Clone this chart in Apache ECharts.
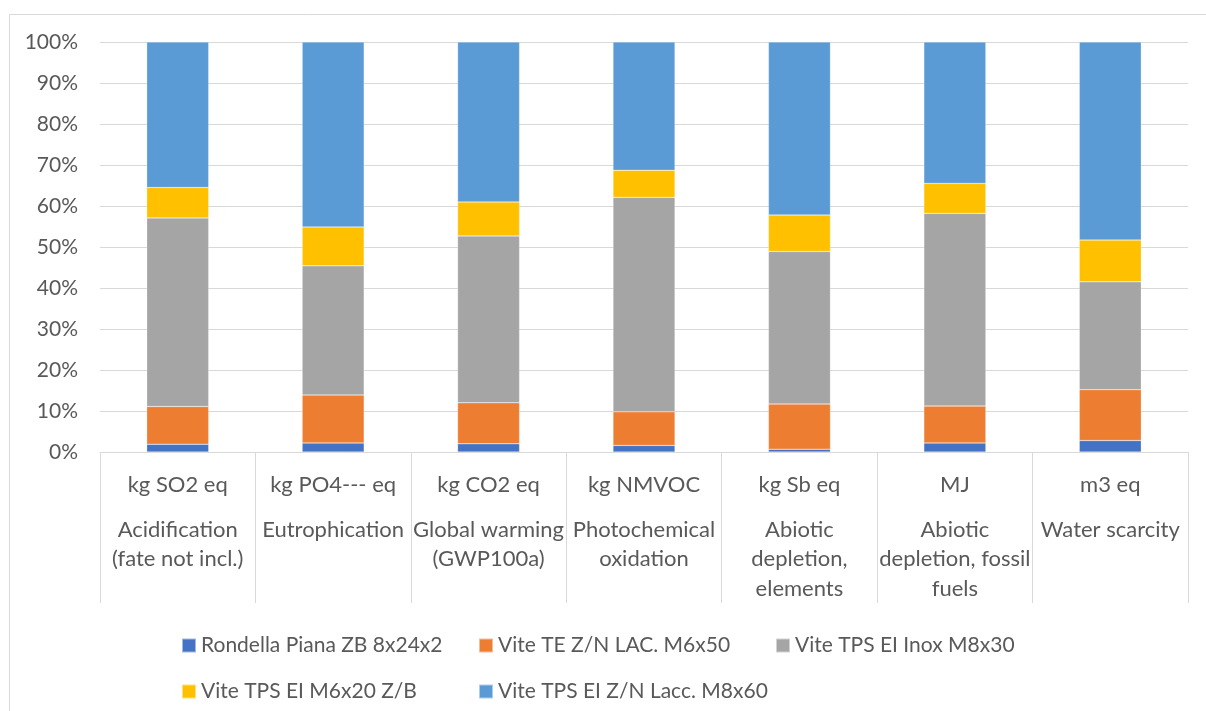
<!DOCTYPE html>
<html>
<head>
<meta charset="utf-8">
<script src="https://cdn.jsdelivr.net/npm/echarts@6/dist/echarts.min.js"></script>
<style>
html,body{margin:0;padding:0;background:#fff;}
#chart{width:1206px;height:711px;}
</style>
</head>
<body>
<div id="chart"></div>
<script>
const units = ['kg SO2 eq', 'kg PO4--- eq', 'kg CO2 eq', 'kg NMVOC', 'kg Sb eq', 'MJ', 'm3 eq'];
const impactNames = [
  'Acidification\n(fate not incl.)',
  'Eutrophication',
  'Global warming\n(GWP100a)',
  'Photochemical\noxidation',
  'Abiotic\ndepletion,\nelements',
  'Abiotic\ndepletion, fossil\nfuels',
  'Water scarcity'
];
const seriesNames = [
  'Rondella Piana ZB 8x24x2',
  'Vite TE Z/N LAC. M6x50',
  'Vite TPS EI Inox M8x30',
  'Vite TPS EI M6x20 Z/B',
  'Vite TPS EI Z/N Lacc. M8x60'
];
const rondella = [1.9, 2.2, 2.0, 1.6, 0.7, 2.2, 2.8];
const viteTE = [9.2, 11.7, 10.0, 8.2, 11.0, 9.0, 12.4];
const viteInox = [46.0, 31.5, 40.7, 52.3, 37.2, 47.0, 26.3];
const viteM6 = [7.4, 9.5, 8.3, 6.6, 8.9, 7.3, 10.2];
const viteM8 = [35.5, 45.1, 39.0, 31.3, 42.2, 34.5, 48.3];
const yTicks = ['0%', '10%', '20%', '30%', '40%', '50%', '60%', '70%', '80%', '90%', '100%'];

const colors = ['#4472C4', '#ED7D31', '#A5A5A5', '#FFC000', '#5B9BD5'];
const seriesData = [rondella, viteTE, viteInox, viteM6, viteM8];
const categories = units.map((u, i) => u + '|' + impactNames[i]);
const FONT = 'Lato';
const TXT = '#595959';

const legendPos = [
  {left: 176, top: 630}, {left: 473, top: 630}, {left: 770, top: 630},
  {left: 176, top: 676}, {left: 473, top: 676}
];

const chart = echarts.init(document.getElementById('chart'));
chart.setOption({
  animation: false,
  textStyle: {fontFamily: FONT},
  graphic: [{
    type: 'rect', left: 7, top: 12, silent: true,
    shape: {width: 1230, height: 730},
    style: {fill: 'none', stroke: '#D9D9D9', lineWidth: 1}
  }],
  legend: seriesNames.map((n, i) => ({
    data: [n], left: legendPos[i].left, top: legendPos[i].top,
    icon: 'rect', itemWidth: 14, itemHeight: 14,
    textStyle: {color: TXT, fontSize: 21, fontFamily: FONT},
    selectedMode: false
  })),
  grid: {left: 100, right: 18, top: 42, bottom: 259, containLabel: false},
  xAxis: {
    type: 'category',
    data: categories,
    axisLine: {lineStyle: {color: '#D9D9D9', width: 1}},
    axisTick: {show: true, length: 151, interval: 0, lineStyle: {color: '#D9D9D9', width: 1}},
    axisLabel: {
      interval: 0, margin: 2,
      formatter: function (v) {
        const p = v.split('|');
        const lines = p[1].split('\n').map(s => '{n|' + s + '}').join('\n');
        return '{u|' + p[0] + '}\n' + lines;
      },
      rich: {
        u: {fontSize: 22, color: TXT, fontFamily: FONT, lineHeight: 61, align: 'center'},
        n: {fontSize: 22, color: TXT, fontFamily: FONT, lineHeight: 29.5, align: 'center'}
      }
    }
  },
  yAxis: {
    type: 'value', min: 0, max: 100, interval: 10,
    axisLine: {show: false}, axisTick: {show: false},
    axisLabel: {
      color: TXT, fontSize: 21, fontFamily: FONT, margin: 22,
      formatter: function (v) { return yTicks[Math.round(v / 10)]; }
    },
    splitLine: {lineStyle: {color: '#D9D9D9', width: 1}}
  },
  series: seriesNames.map((n, i) => ({
    name: n, type: 'bar', stack: 'total',
    data: seriesData[i], barWidth: 62,
    itemStyle: {color: colors[i], borderColor: 'rgba(255,255,255,0.5)', borderWidth: 0.5}
  }))
});
</script>
</body>
</html>
